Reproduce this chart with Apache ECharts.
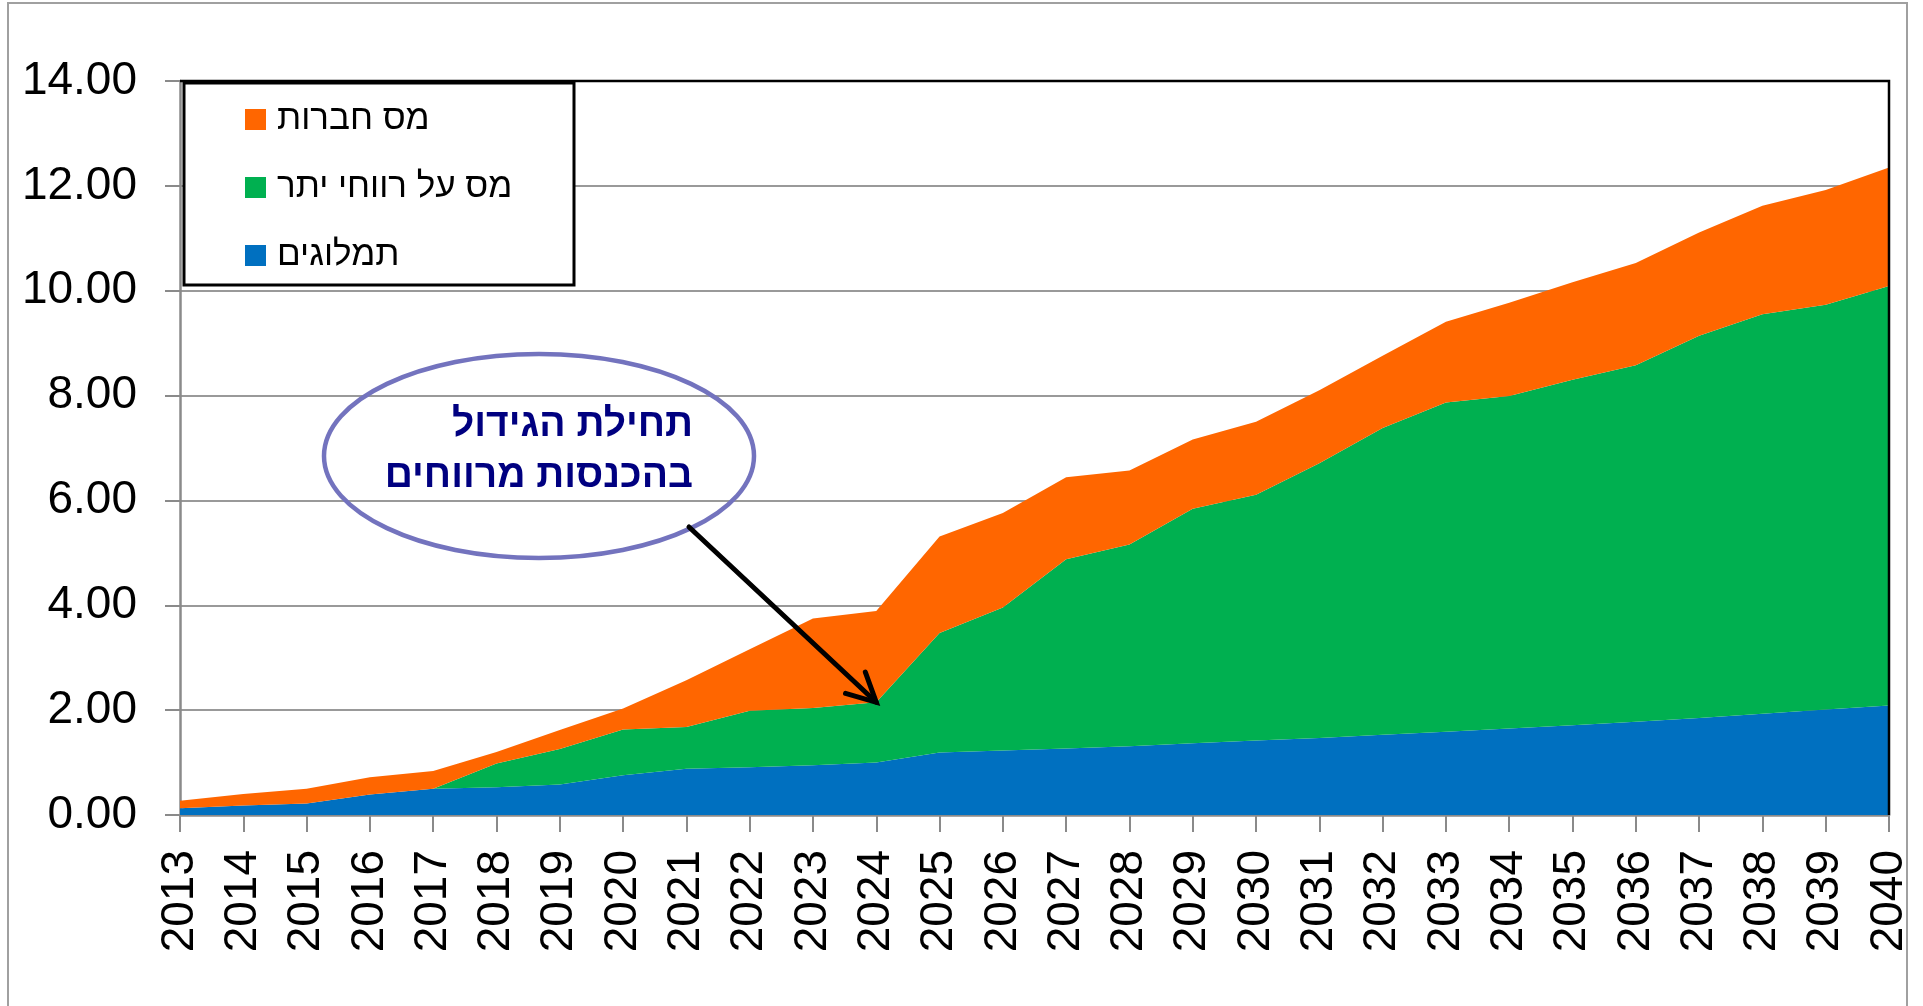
<!DOCTYPE html>
<html>
<head>
<meta charset="utf-8">
<script src="https://cdn.jsdelivr.net/npm/echarts@6/dist/echarts.min.js"></script>
<style>
  html, body { margin: 0; padding: 0; background: #fff; }
  #chart { width: 1923px; height: 1006px; }
</style>
</head>
<body>
<div id="chart"></div>
<script>
// years on the x axis
const years = [
  "2013", "2014", "2015", "2016", "2017", "2018", "2019", "2020", "2021", "2022",
  "2023", "2024", "2025", "2026", "2027", "2028", "2029", "2030", "2031", "2032",
  "2033", "2034", "2035", "2036", "2037", "2038", "2039", "2040"
];

// royalties (bottom layer)
const royalties = [
  0.13, 0.18, 0.22, 0.39, 0.50, 0.53, 0.58, 0.76, 0.88, 0.91,
  0.95, 1.00, 1.19, 1.23, 1.27, 1.31, 1.37, 1.42, 1.47, 1.53,
  1.59, 1.65, 1.71, 1.78, 1.85, 1.93, 2.01, 2.09
];

// windfall profits tax (middle layer)
const windfallTax = [
  0.00, 0.00, 0.00, 0.00, 0.00, 0.45, 0.68, 0.87, 0.80, 1.08,
  1.09, 1.15, 2.28, 2.73, 3.61, 3.85, 4.47, 4.69, 5.24, 5.85,
  6.28, 6.34, 6.59, 6.80, 7.29, 7.62, 7.72, 8.00
];

// corporate tax (top layer)
const corporateTax = [
  0.14, 0.22, 0.28, 0.33, 0.34, 0.22, 0.36, 0.40, 0.89, 1.17,
  1.71, 1.74, 1.84, 1.80, 1.56, 1.41, 1.32, 1.39, 1.39, 1.38,
  1.54, 1.78, 1.86, 1.95, 1.97, 2.07, 2.19, 2.26
];

const names = {
  royalties: "תמלוגים",
  windfall: "מס על רווחי יתר",
  corporate: "מס חברות"
};

const calloutLines = ["תחילת הגידול", "בהכנסות מרווחים"];
const calloutYear = "2024";

const FONT = "Arial, 'Liberation Sans', sans-serif";
const COLORS = { royalties: "#0070C0", windfall: "#00B050", corporate: "#FF6600" };
const GRID = { left: 180, right: 34, top: 81, bottom: 191 };
const W = 1923, H = 1006;

function areaSeries(name, data, color) {
  return {
    name,
    type: "line",
    stack: "total",
    data,
    symbol: "none",
    lineStyle: { width: 0 },
    itemStyle: { color },
    areaStyle: { color, opacity: 1 },
    emphasis: { disabled: true }
  };
}

const chart = echarts.init(document.getElementById("chart"));

chart.setOption({
  animation: false,
  grid: { left: GRID.left, right: GRID.right, top: GRID.top, bottom: GRID.bottom },
  legend: {
    z: 120,
    orient: "vertical",
    left: 245,
    top: 102,
    padding: 0,
    itemGap: 33,
    itemWidth: 21,
    itemHeight: 21,
    icon: "rect",
    selectedMode: false,
    data: [names.corporate, names.windfall, names.royalties],
    textStyle: { fontFamily: FONT, fontSize: 35, lineHeight: 35, color: "#000", padding: [0, 0, 0, 6] }
  },
  xAxis: {
    type: "category",
    data: years,
    boundaryGap: false,
    axisLine: { lineStyle: { color: "#8a8a8a", width: 2.5 } },
    axisTick: { show: true, length: 17, interval: 0, lineStyle: { color: "#8a8a8a", width: 2 } },
    axisLabel: {
      interval: 0, rotate: 90, margin: 35,
      fontFamily: FONT, fontSize: 46, color: "#000"
    },
    splitLine: { show: false }
  },
  yAxis: {
    type: "value",
    min: 0, max: 14, interval: 2,
    axisLine: { show: true, lineStyle: { color: "#8a8a8a", width: 2.5 } },
    axisTick: { show: true, length: 15, lineStyle: { color: "#8a8a8a", width: 2 } },
    axisLabel: {
      margin: 43, fontFamily: FONT, fontSize: 46, color: "#000",
      formatter: (v) => v.toFixed(2)
    },
    splitLine: { lineStyle: { color: "#999", width: 2 } }
  },
  series: [
    areaSeries(names.royalties, royalties, COLORS.royalties),
    areaSeries(names.windfall, windfallTax, COLORS.windfall),
    areaSeries(names.corporate, corporateTax, COLORS.corporate)
  ]
});

// callout arrow tip sits on top of the windfall layer in 2024
const idx = years.indexOf(calloutYear);
const tip = chart.convertToPixel({ xAxisIndex: 0, yAxisIndex: 0 }, [idx, royalties[idx] + windfallTax[idx]]);
const tail = [689, 527];
const ang = Math.atan2(tail[1] - tip[1], tail[0] - tip[0]);
const armLen = 32, spread = 0.47;
const arm1 = [tip[0] + armLen * Math.cos(ang - spread), tip[1] + armLen * Math.sin(ang - spread)];
const arm2 = [tip[0] + armLen * Math.cos(ang + spread), tip[1] + armLen * Math.sin(ang + spread)];

// plot area frame: black on top and right (left/bottom are the grey axes)
const px0 = GRID.left, py0 = GRID.top, px1 = W - GRID.right, py1 = H - GRID.bottom;

chart.setOption({
  graphic: [
    {
      type: "rect", silent: true, z: -10,
      shape: { x: 8, y: 3, width: 1899, height: 1020 },
      style: { fill: "#fff", stroke: "#a0a0a0", lineWidth: 2 }
    },
    {
      type: "polyline", silent: true, z: 80,
      shape: { points: [[px0, py0], [px1, py0], [px1, py1]] },
      style: { stroke: "#000", lineWidth: 2.5, fill: null }
    },
    {
      type: "rect", silent: true, z: 90,
      shape: { x: 184, y: 83, width: 390, height: 202 },
      style: { fill: "#fff", stroke: "#000", lineWidth: 3 }
    },
    {
      type: "ellipse", silent: true, z: 100,
      shape: { cx: 539, cy: 456, rx: 215, ry: 102 },
      style: { fill: "transparent", stroke: "#7373BE", lineWidth: 4.5 }
    },
    {
      type: "text", silent: true, z: 100,
      style: {
        x: 693, y: 425, text: calloutLines[0], align: "right", verticalAlign: "middle",
        fill: "#000080", fontWeight: "bold", fontSize: 39, fontFamily: FONT
      }
    },
    {
      type: "text", silent: true, z: 100,
      style: {
        x: 693, y: 476, text: calloutLines[1], align: "right", verticalAlign: "middle",
        fill: "#000080", fontWeight: "bold", fontSize: 39, fontFamily: FONT
      }
    },
    {
      type: "polyline", silent: true, z: 100,
      shape: { points: [tail, tip] },
      style: { stroke: "#000", lineWidth: 5, lineCap: "round" }
    },
    {
      type: "polyline", silent: true, z: 100,
      shape: { points: [arm1, tip, arm2] },
      style: { stroke: "#000", lineWidth: 5, lineCap: "round", lineJoin: "miter", fill: null }
    }
  ]
});
</script>
</body>
</html>
